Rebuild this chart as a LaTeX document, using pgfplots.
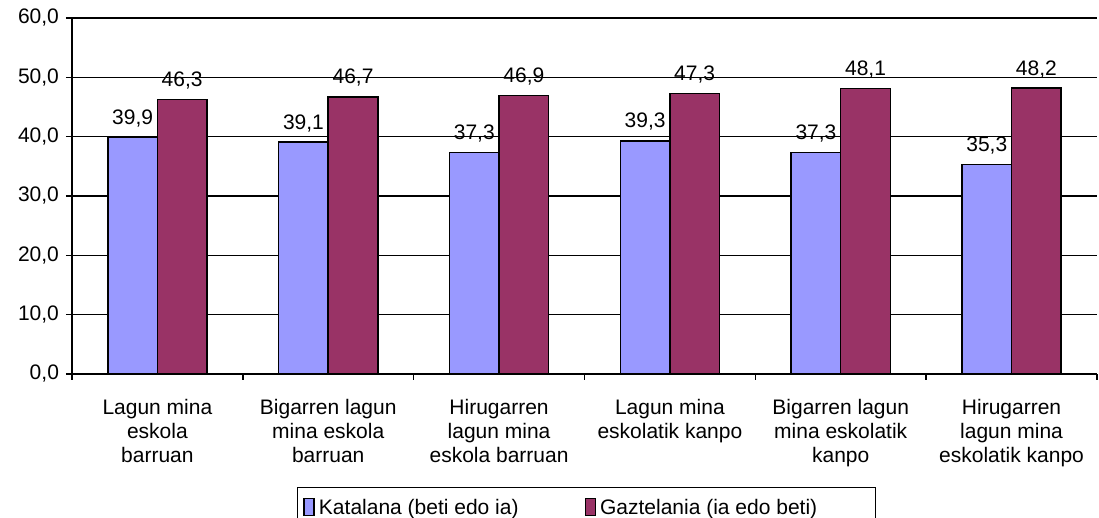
\documentclass[border=0pt]{standalone}
\usepackage{fontspec}
\setmainfont{Liberation Sans}
\usepackage{pgfplots}
\pgfplotsset{compat=1.18}

\definecolor{kat}{HTML}{9999FF}
\definecolor{gaz}{HTML}{993366}

\begin{document}
\begin{tikzpicture}
\path[use as bounding box] (-36pt,-72pt) rectangle (513.5pt,187pt);
\begin{axis}[
  scale only axis,
  width=512.5pt, height=178pt,
  xmin=-0.5, xmax=5.5,
  ymin=0, ymax=60,
  ytick={0,10,...,60},
  xtick={0,...,5},
  minor xtick={-0.5,0.5,...,5.5},
  xticklabels={{Lagun mina\\eskola\\barruan},
               {Bigarren lagun\\mina eskola\\barruan},
               {Hirugarren\\lagun mina\\eskola barruan},
               {Lagun mina\\eskolatik kanpo},
               {Bigarren lagun\\mina eskolatik\\kanpo},
               {Hirugarren\\lagun mina\\eskolatik kanpo}},
  axis x line*=bottom,
  axis y line*=left,
  axis line style={-, black, line width=1pt},
  tick align=outside,
  major tick length=3pt,
  minor tick length=3pt,
  every tick/.style={black, line width=0.8pt},
  every major x tick/.style={draw=none},
  ymajorgrids,
  grid style={black, line width=0.8pt},
  /pgf/number format/fixed,
  /pgf/number format/fixed zerofill,
  /pgf/number format/precision=1,
  /pgf/number format/use comma,
  /pgf/number format/assume math mode=true,
  y tick label style={font=\fontsize{10.5}{12}\selectfont},
  x tick label style={align=center, font=\fontsize{10.5}{12}\selectfont, yshift=-6pt},
  ybar=0pt,
  bar width=0.29,
  nodes near coords,
  every node near coord/.append style={font=\fontsize{10.5}{12}\selectfont, anchor=base, inner sep=0pt, yshift=6.5pt},
  legend columns=2,
  legend style={at={(0.2195,-0.3174)}, anchor=north west, draw=black, line width=0.5pt,
    font=\fontsize{10.5}{12}\selectfont, inner ysep=4pt,
    /tikz/every even column/.append style={column sep=31pt}},
  legend image code/.code={\draw[#1, line width=0.75pt] (0pt,-3.5pt) rectangle (5pt,5pt);},
]
\addplot[fill=kat, draw=black, line width=0.75pt] coordinates {
  (0,39.9) (1,39.1) (2,37.3) (3,39.3) (4,37.3) (5,35.3)
};
\addplot[fill=gaz, draw=black, line width=0.75pt] coordinates {
  (0,46.3) (1,46.7) (2,46.9) (3,47.3) (4,48.1) (5,48.2)
};
\legend{Katalana (beti edo ia), Gaztelania (ia edo beti)\hspace*{24pt}}
\end{axis}
\end{tikzpicture}
\end{document}
